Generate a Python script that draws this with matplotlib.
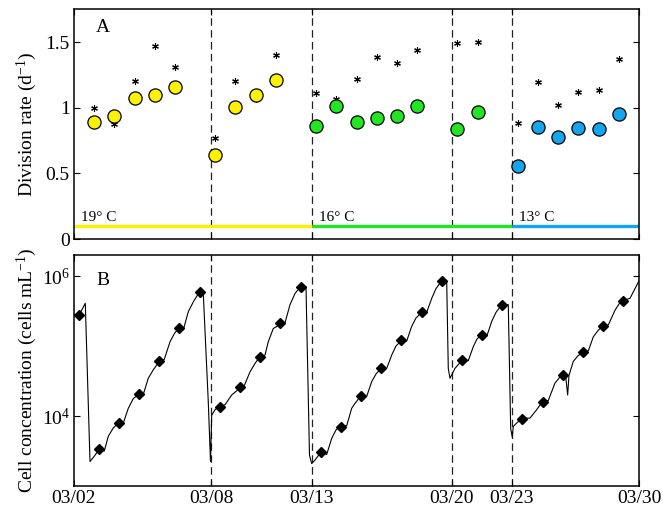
import numpy as np
import matplotlib
matplotlib.use("Agg")
import matplotlib.pyplot as plt
from matplotlib.ticker import FixedLocator, NullLocator, LogFormatterMathtext

plt.rcParams['font.family'] = ['Liberation Serif', 'DejaVu Serif']
plt.rcParams['mathtext.fontset'] = 'custom'
plt.rcParams['mathtext.rm'] = 'Liberation Serif'
plt.rcParams['mathtext.it'] = 'Liberation Serif:italic'
plt.rcParams['mathtext.bf'] = 'Liberation Serif:bold'

# ---------------- data ----------------
# x axis in day-of-March
tick_pos = [2, 8.79, 13.79, 20.73, 23.70, 30]
tick_labels = ['03/02', '03/08', '03/13', '03/20', '03/23', '03/30']
dilution_days = [8.79, 13.79, 20.73, 23.70]

# Panel A: division rates
yellow_days = [3, 4, 5, 6, 7, 9, 10, 11, 12]
yellow_rate = [0.888, 0.941, 1.078, 1.101, 1.16, 0.64, 1.005, 1.10, 1.215]
green_days = [14, 15, 16, 17, 18, 19, 21, 22]
green_rate = [0.865, 1.015, 0.893, 0.926, 0.939, 1.01, 0.84, 0.97]
blue_days = [24, 25, 26, 27, 28, 29]
blue_rate = [0.559, 0.855, 0.779, 0.845, 0.838, 0.949]

star_days = [3, 4, 5, 6, 7, 9, 10, 11, 12, 14, 15, 16, 17, 18, 19, 21, 22,
             24, 25, 26, 27, 28, 29]
star_rate = [0.995, 0.873, 1.208, 1.472, 1.31, 0.769, 1.205, 1.068, 1.406,
             1.109, 1.066, 1.218, 1.39, 1.342, 1.439, 1.497, 1.505,
             0.881, 1.198, 1.02, 1.122, 1.139, 1.375]

temp_labels = ['19° C', '16° C', '13° C']
temp_start = [2, 13.79, 23.70]
temp_end = [13.79, 23.70, 30]
temp_level = 0.1

# Panel B: cell concentration (log10 cells per mL)
diamond_days = [2.225 + i for i in range(28)]
diamond_log = [5.443, 3.524, 3.905, 4.319, 4.781, 5.257, 5.767, 4.133, 4.414,
               4.843, 5.324, 5.847, 3.486, 3.848, 4.29, 4.681, 5.081, 5.486,
               5.929, 4.80, 5.161, 5.581, 3.962, 4.205, 4.581, 4.914, 5.281,
               5.643]

trace_days = [2.000, 2.248, 2.560, 2.793, 2.991, 3.239, 3.501, 3.700, 3.947,
              4.230, 4.443, 4.691, 4.939, 5.221, 5.434, 5.682, 5.930, 6.227,
              6.475, 6.757, 6.980, 7.203, 7.416, 7.664, 7.912, 8.209, 8.407,
              8.655, 8.764, 8.824, 8.987, 9.200, 9.483, 9.815, 10.226, 10.390,
              10.722, 10.969, 11.217, 11.465, 11.628, 11.876, 12.243, 12.456,
              12.704, 12.952, 13.234, 13.497, 13.670, 13.779, 13.943, 14.225,
              14.522, 14.770, 14.983, 15.231, 15.513, 15.761, 15.925, 16.222,
              16.505, 16.752, 16.966, 17.213, 17.496, 17.744, 17.957, 18.239,
              18.487, 18.734, 18.947, 19.230, 19.478, 19.726, 19.939, 20.221,
              20.469, 20.548, 20.632, 20.880, 21.242, 21.539, 21.787, 21.970,
              22.203, 22.481, 22.699, 22.912, 23.194, 23.522, 23.641, 23.720,
              23.769, 23.938, 24.215, 24.597, 24.929, 25.226, 25.503, 25.835,
              26.034, 26.217, 26.366, 26.465, 26.530, 26.743, 26.976, 27.209,
              27.487, 27.734, 27.967, 28.200, 28.478, 28.810, 29.008, 29.191,
              29.553, 29.801, 30.0]
trace_log = [5.45, 5.44, 5.61, 3.35, 3.42, 3.52, 3.50, 3.71, 3.83,
             3.905, 3.90, 4.11, 4.25, 4.31, 4.31, 4.54, 4.66, 4.78,
             4.81, 5.06, 5.18, 5.26, 5.23, 5.49, 5.63, 5.77, 5.75,
             4.20, 3.35, 4.01, 4.09, 4.13, 4.16, 4.30, 4.40, 4.40,
             4.63, 4.75, 4.85, 4.87, 5.06, 5.25, 5.31, 5.33,
             5.59, 5.75, 5.85, 5.85, 3.44, 3.32, 3.37, 3.48,
             3.45, 3.68, 3.80, 3.86, 3.86, 4.11, 4.18, 4.29,
             4.28, 4.49, 4.60, 4.68, 4.68, 4.87, 5.00, 5.08,
             5.07, 5.28, 5.40, 5.48, 5.48, 5.68, 5.82, 5.93,
             5.94, 4.68, 4.54, 4.68, 4.80, 4.79, 4.99, 5.10,
             5.16, 5.16, 5.35, 5.48, 5.59, 5.59, 3.82, 3.70,
             3.85, 3.90, 3.97, 3.97, 4.09, 4.21, 4.22, 4.47,
             4.54, 4.59, 4.57, 4.30, 4.58, 4.78, 4.86, 4.91,
             4.93, 5.13, 5.22, 5.29, 5.30, 5.51, 5.60, 5.65,
             5.68, 5.82, 5.93]

# ---------------- styling ----------------
yellow = '#FFF200'
green = '#22E622'
blue = '#14A5F0'

W, H = 663, 512
fig = plt.figure(figsize=(W / 100, H / 100), dpi=100)
left = 74 / W
width = 565 / W
axA = fig.add_axes([left, 1 - 239 / H, width, 230 / H])
axB = fig.add_axes([left, 1 - 486 / H, width, 231 / H])

for ax in (axA, axB):
    for s in ax.spines.values():
        s.set_linewidth(1.1)
    ax.set_xlim(2, 30)
    ax.xaxis.set_major_locator(FixedLocator(tick_pos))
    ax.xaxis.set_minor_locator(NullLocator())
    ax.tick_params(axis='both', which='both', direction='in', length=4,
                   width=0.8, top=True, right=True, labelsize=14, pad=3)
    for d in dilution_days:
        ax.axvline(d, color='#222222', lw=0.9, dashes=(6, 3.5), zorder=1)

# Panel A
axA.set_ylim(0, 1.753)
axA.set_yticks([0, 0.5, 1, 1.5])
axA.set_yticklabels(['0', '0.5', '1', '1.5'])
axA.set_xticklabels([])
temp_colors = [yellow, green, blue]
for lab, x0, x1, c in zip(temp_labels, temp_start, temp_end, temp_colors):
    axA.plot([x0, x1], [temp_level, temp_level], color=c, lw=2.4,
             solid_capstyle='butt', zorder=2)
    axA.text(x0 + 0.35, temp_level + 0.012, lab, fontsize=11,
             ha='left', va='bottom')
axA.plot(star_days, star_rate, linestyle='none', marker=(6, 2, 0),
         markersize=4.8, markeredgewidth=0.8, color='black', zorder=3)
for dd, rr, c in [(yellow_days, yellow_rate, yellow),
                  (green_days, green_rate, green),
                  (blue_days, blue_rate, blue)]:
    axA.plot(dd, rr, linestyle='none', marker='o', markersize=9.5,
             markerfacecolor=c, markeredgecolor='black',
             markeredgewidth=0.9, zorder=4)
axA.text(3.1, 1.61, 'A', fontsize=14, ha='left', va='center')
axA.set_ylabel('Division rate (d$^{-1}$)', fontsize=14)
axA.yaxis.set_label_coords(-0.062, 0.5)

# Panel B
axB.set_yscale('log')
axB.set_ylim(10 ** 3.0, 10 ** 6.3)
axB.yaxis.set_major_locator(FixedLocator([1e4, 1e6]))
axB.yaxis.set_minor_locator(NullLocator())
axB.yaxis.set_major_formatter(LogFormatterMathtext())
axB.set_xticklabels(tick_labels)
axB.plot(trace_days, 10 ** np.array(trace_log), color='black', lw=0.8,
         zorder=3)
axB.plot(diamond_days, 10 ** np.array(diamond_log), linestyle='none',
         marker='D', markersize=5.2, color='black', zorder=4)
axB.text(3.1, 10 ** 5.93, 'B', fontsize=14, ha='left', va='center')
axB.set_ylabel('Cell concentration (cells mL$^{-1}$)', fontsize=14)
axB.yaxis.set_label_coords(-0.062, 0.5)

fig.savefig('out.png', dpi=100)
